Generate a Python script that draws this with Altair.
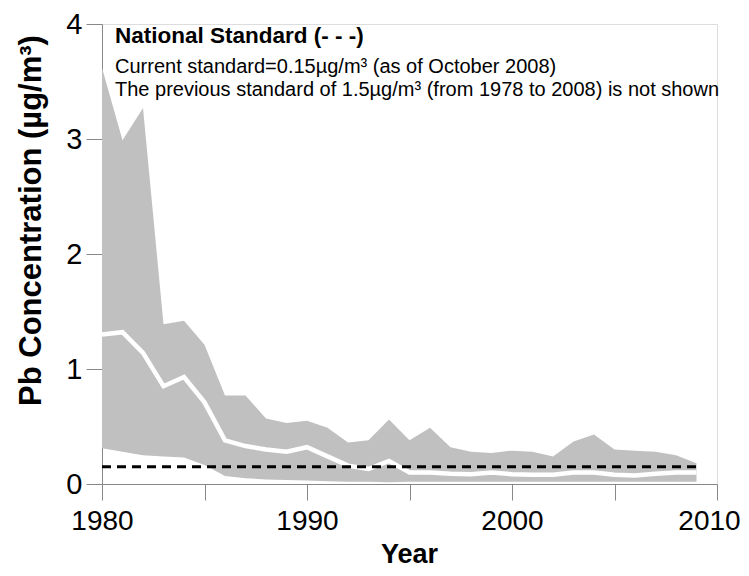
import altair as alt
import pandas as pd

years = list(range(1980, 2010))
upper = [3.62, 2.99, 3.27, 1.39, 1.42, 1.21, 0.77, 0.77, 0.57, 0.53,
         0.55, 0.49, 0.36, 0.38, 0.56, 0.38, 0.49, 0.32, 0.28, 0.27,
         0.29, 0.28, 0.24, 0.37, 0.43, 0.30, 0.29, 0.28, 0.25, 0.18]
mean = [1.30, 1.32, 1.14, 0.85, 0.93, 0.71, 0.38, 0.33, 0.30, 0.28,
        0.32, 0.24, 0.16, 0.13, 0.20, 0.10, 0.10, 0.09, 0.085, 0.10,
        0.085, 0.08, 0.08, 0.10, 0.10, 0.08, 0.075, 0.09, 0.10, 0.10]
lower = [0.31, 0.28, 0.25, 0.24, 0.23, 0.165, 0.07, 0.05, 0.04, 0.035,
         0.03, 0.025, 0.02, 0.02, 0.015, 0.02, 0.02, 0.02, 0.02, 0.02,
         0.02, 0.02, 0.02, 0.02, 0.02, 0.02, 0.02, 0.02, 0.02, 0.02]
standard_value = 0.15
standard_years = [1980, 2009]

x_ticks = [1980, 1985, 1990, 1995, 2000, 2005, 2010]
y_ticks = [0, 1, 2, 3, 4]

note_title = "National Standard (- - -)"
note_line1 = "Current standard=0.15µg/m³ (as of October 2008)"
note_line2 = "The previous standard of 1.5µg/m³ (from 1978 to 2008) is not shown"

df = pd.DataFrame({"year": years, "upper": upper, "lower": lower, "mean": mean})
std_df = pd.DataFrame({"year": standard_years, "std": [standard_value] * len(standard_years)})

FONT = "Liberation Sans, Arial, Helvetica, sans-serif"
AXIS_COLOR = "#231f20"

x_enc = alt.X(
    "year:Q",
    scale=alt.Scale(domain=[1980, 2010], nice=False, zero=False),
    axis=alt.Axis(
        values=x_ticks,
        format="d",
        labelExpr="datum.value % 10 == 0 ? datum.label : ''",
        labelFlush=False,
        labelOverlap=False,
        labelOffset={"condition": {"test": "datum.value == 2010", "value": -8}, "value": 0},
        title="Year",
        titleFontSize=27,
        titleFontWeight="bold",
        titleX=307,
        titleY=78,
        titleBaseline="alphabetic",
        labelFontSize=28,
        labelPadding=7,
        tickSize=16,
        grid=False,
    ),
)
y_scale = alt.Scale(domain=[0, 4], nice=False)

band = alt.Chart(df).mark_area(color="#c0c0c0", opacity=1).encode(
    x=x_enc,
    y=alt.Y(
        "lower:Q",
        scale=y_scale,
        axis=alt.Axis(
            values=y_ticks,
            format="d",
            labelFlush=False,
            labelOverlap=False,
            title="Pb Concentration (µg/m³)",
            titleFontSize=31,
            titleFontWeight="bold",
            titleAngle=-90,
            titleX=-62,
            titleY=196,
            titleAlign="center",
            titleBaseline="alphabetic",
            labelFontSize=29,
            labelPadding=4,
            tickSize=16,
            grid=False,
        ),
    ),
    y2="upper:Q",
)

mean_line = alt.Chart(df).mark_line(color="white", strokeWidth=4.5).encode(
    x="year:Q",
    y=alt.Y("mean:Q", scale=y_scale),
)

std_line = alt.Chart(std_df).mark_line(
    color="black", strokeWidth=3, strokeDash=[9, 6]
).encode(
    x="year:Q",
    y=alt.Y("std:Q", scale=y_scale),
)

def note(text, y, size, weight):
    return alt.Chart(pd.DataFrame({"t": [text]})).mark_text(
        align="left", baseline="alphabetic", fontSize=size, fontWeight=weight,
        font=FONT, color="black",
    ).encode(x=alt.value(13), y=alt.value(y), text="t:N")

notes = (
    note(note_title, 19, 22.5, "bold")
    + note(note_line1, 48.5, 20, "normal")
    + note(note_line2, 72, 20, "normal")
)

chart = alt.layer(band, mean_line, std_line, notes).properties(
    width=615,
    height=460,
    autosize=alt.AutoSizeParams(type="none"),
    padding={"left": 94, "top": 16, "right": 24, "bottom": 84},
).configure_view(stroke=None).configure_axis(
    domainColor=AXIS_COLOR,
    domainWidth=2,
    tickColor=AXIS_COLOR,
    tickWidth=1.8,
    labelColor="#231f20",
    titleColor="black",
    labelFont=FONT,
    titleFont=FONT,
).configure(background="white")

chart.save("out.html", embed_options={"renderer": "svg", "actions": False})
